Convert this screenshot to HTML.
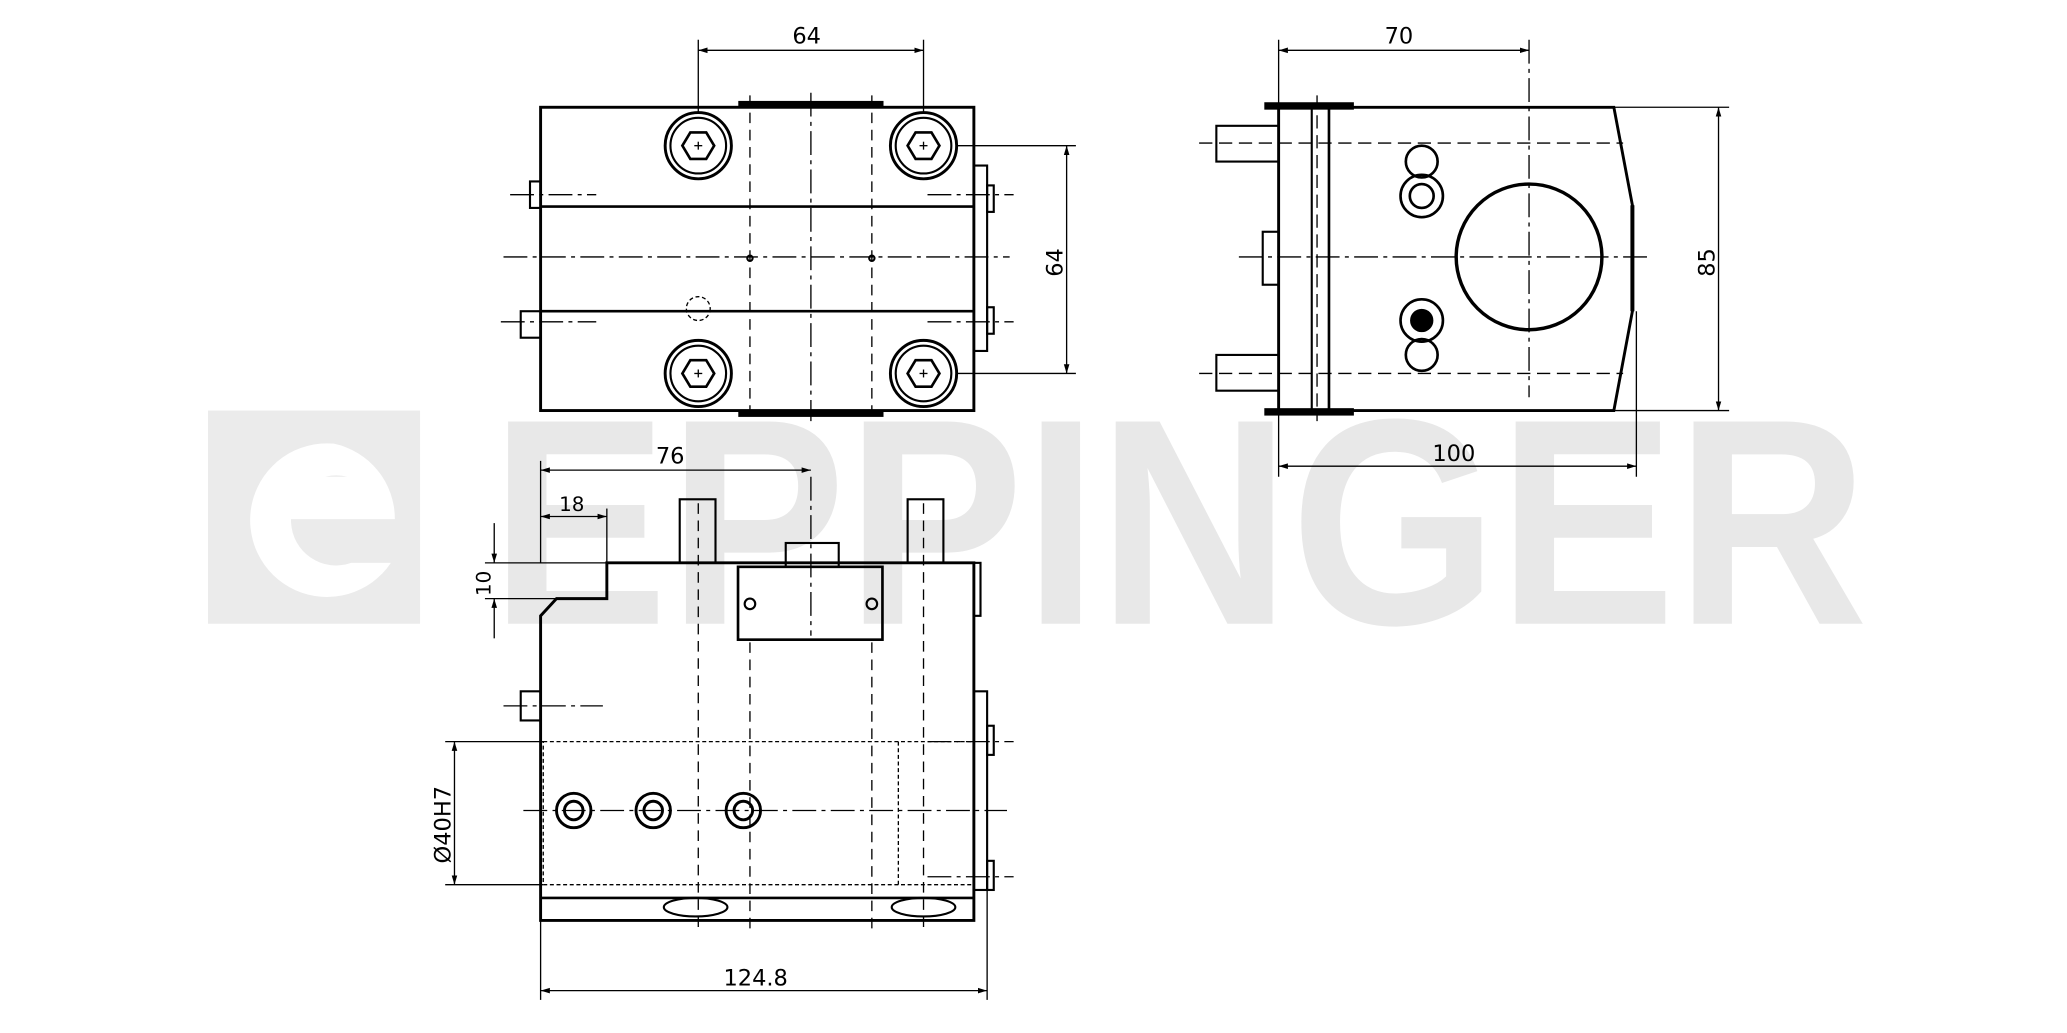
<!DOCTYPE html>
<html><head><meta charset="utf-8"><style>
html,body{margin:0;padding:0;background:#fff;overflow:hidden}
svg{display:block}
text{font-family:"DejaVu Sans","Liberation Sans",sans-serif;fill:#000}
</style></head><body>
<svg width="2067" height="1033" viewBox="0 0 1560 780" preserveAspectRatio="none" xmlns="http://www.w3.org/2000/svg">
<defs>
<marker id="a" viewBox="0 0 10 10" refX="10" refY="5" markerWidth="7" markerHeight="7" orient="auto-start-reverse"><path d="M0,2 L10,5 L0,8z" fill="#000"/></marker>
</defs>
<!-- watermark -->
<rect x="157" y="310" width="160" height="161" fill="#ebebeb"/>
<path d="M252,335 A58,58 0 1 0 295,425 L265,425 A34,34 0 1 1 262,360 L205,360 L205,392 L298,392 A58,58 0 0 0 252,335z" fill="#fff"/>
<text x="370" y="471" font-size="222" font-weight="bold" textLength="1040" lengthAdjust="spacingAndGlyphs" style="fill:#e8e8e8;font-family:'Liberation Sans',sans-serif">EPPINGER</text>

<g fill="none" stroke="#000" stroke-width="1.6">
<!-- TOP LEFT VIEW -->
<rect x="408" y="81" width="327" height="229" stroke-width="2.2"/>
<line x1="408" y1="156" x2="735" y2="156" stroke-width="2"/>
<line x1="408" y1="235" x2="735" y2="235" stroke-width="2"/>
<rect x="558" y="77" width="108" height="4" fill="#000"/>
<rect x="558" y="310" width="108" height="4" fill="#000"/>
<rect x="400" y="137" width="8" height="20"/>
<rect x="393" y="235" width="15" height="20"/>
<rect x="735" y="125" width="10" height="140"/>
<rect x="745" y="140" width="5" height="20"/><rect x="745" y="232" width="5" height="20"/>
<g stroke-dasharray="18,4,3,4" stroke-width="1">
<line x1="612" y1="70" x2="612" y2="318"/>
<line x1="380" y1="194" x2="762" y2="194"/>
<line x1="385" y1="147" x2="450" y2="147"/><line x1="378" y1="243" x2="450" y2="243"/>
<line x1="700" y1="147" x2="765" y2="147"/><line x1="700" y1="243" x2="765" y2="243"/>
</g>
<g stroke-dasharray="8,5" stroke-width="1">
<line x1="566" y1="72" x2="566" y2="318"/><line x1="658" y1="72" x2="658" y2="318"/>
</g>
<circle cx="566" cy="195" r="2"/><circle cx="658" cy="195" r="2"/>
<circle cx="527" cy="233" r="9" stroke-dasharray="3,2" stroke-width="1"/>
<g id="bolt">
<circle cx="527" cy="110" r="25" stroke-width="2.2"/><circle cx="527" cy="110" r="21"/>
<polygon points="539,110 533,100 521,100 515,110 521,120 533,120" stroke-width="2"/>
<line x1="524" y1="110" x2="530" y2="110" stroke-width="1"/><line x1="527" y1="107" x2="527" y2="113" stroke-width="1"/>
</g>
<use href="#bolt" x="170"/><use href="#bolt" y="172"/><use href="#bolt" x="170" y="172"/>
<g stroke-width="1">
<line x1="527" y1="30" x2="527" y2="86"/><line x1="697" y1="30" x2="697" y2="86"/>
<line x1="527" y1="38" x2="697" y2="38" marker-start="url(#a)" marker-end="url(#a)"/>
<line x1="722" y1="110" x2="812" y2="110"/><line x1="722" y1="282" x2="812" y2="282"/>
<line x1="805" y1="110" x2="805" y2="282" marker-start="url(#a)" marker-end="url(#a)"/>
</g>

<!-- TOP RIGHT VIEW -->
<path d="M965,81 L1218,81 L1232,155 L1232,235 L1218,310 L965,310z" stroke-width="2.2"/>
<line x1="990" y1="81" x2="990" y2="310"/><line x1="1003" y1="81" x2="1003" y2="310" stroke-width="2"/>
<rect x="955" y="78" width="66" height="4" fill="#000"/><rect x="955" y="309" width="66" height="4" fill="#000"/>
<rect x="918" y="95" width="47" height="27"/><rect x="918" y="268" width="47" height="27"/>
<rect x="953" y="175" width="12" height="40"/>
<line x1="1232" y1="155" x2="1232" y2="235" stroke-width="3"/>
<circle cx="1154" cy="194" r="55" stroke-width="2.6"/>
<circle cx="1073" cy="122" r="12" stroke-width="2"/><circle cx="1073" cy="148" r="16" stroke-width="2"/><circle cx="1073" cy="148" r="9" stroke-width="2"/>
<circle cx="1073" cy="242" r="16" stroke-width="2"/><circle cx="1073" cy="242" r="8" fill="#000"/><circle cx="1073" cy="268" r="12" stroke-width="2"/>
<g stroke-dasharray="18,4,3,4" stroke-width="1">
<line x1="1154" y1="30" x2="1154" y2="300"/>
<line x1="935" y1="194" x2="1245" y2="194"/>
</g>
<g stroke-dasharray="10,5" stroke-width="1">
<line x1="905" y1="108" x2="1225" y2="108"/><line x1="905" y1="282" x2="1225" y2="282"/>
<line x1="994" y1="72" x2="994" y2="318"/>
</g>
<g stroke-width="1">
<line x1="965" y1="30" x2="965" y2="360"/>
<line x1="965" y1="38" x2="1154" y2="38" marker-start="url(#a)" marker-end="url(#a)"/>
<line x1="1218" y1="81" x2="1305" y2="81"/><line x1="1218" y1="310" x2="1305" y2="310"/>
<line x1="1297" y1="81" x2="1297" y2="310" marker-start="url(#a)" marker-end="url(#a)"/>
<line x1="1235" y1="235" x2="1235" y2="360"/>
<line x1="965" y1="352" x2="1235" y2="352" marker-start="url(#a)" marker-end="url(#a)"/>
</g>

<!-- BOTTOM VIEW -->
<path d="M458,425 L735,425 L735,695 L408,695 L408,465 L420,452 L458,452z" stroke-width="2.2"/>
<line x1="408" y1="678" x2="735" y2="678" stroke-width="2"/>
<rect x="513" y="377" width="27" height="48"/><rect x="685" y="377" width="27" height="48"/>
<rect x="557" y="428" width="109" height="55" stroke-width="2"/>
<rect x="593" y="410" width="40" height="18"/>
<rect x="735" y="425" width="5" height="40"/>
<rect x="735" y="522" width="10" height="150"/>
<rect x="745" y="548" width="5" height="22"/><rect x="745" y="650" width="5" height="22"/>
<rect x="393" y="522" width="15" height="22"/>
<circle cx="566" cy="456" r="4"/><circle cx="658" cy="456" r="4"/>
<rect x="410" y="560" width="325" height="108" stroke-dasharray="3,2" stroke-width="1"/>
<line x1="678" y1="560" x2="678" y2="668" stroke-dasharray="3,2" stroke-width="1"/>
<ellipse cx="525" cy="685" rx="24" ry="7"/><ellipse cx="697" cy="685" rx="24" ry="7"/>
<g stroke-width="2.2">
<circle cx="433" cy="612" r="13"/><circle cx="433" cy="612" r="7"/>
<circle cx="493" cy="612" r="13"/><circle cx="493" cy="612" r="7"/>
<circle cx="561" cy="612" r="13"/><circle cx="561" cy="612" r="7"/>
</g>
<g stroke-dasharray="18,4,3,4" stroke-width="1">
<line x1="612" y1="360" x2="612" y2="480"/>
<line x1="395" y1="612" x2="760" y2="612"/>
<line x1="380" y1="533" x2="455" y2="533"/>
<line x1="700" y1="560" x2="765" y2="560"/><line x1="700" y1="662" x2="765" y2="662"/>
</g>
<g stroke-dasharray="8,5" stroke-width="1">
<line x1="527" y1="380" x2="527" y2="705"/><line x1="566" y1="485" x2="566" y2="705"/>
<line x1="658" y1="485" x2="658" y2="705"/><line x1="697" y1="380" x2="697" y2="705"/>
</g>
<g stroke-width="1">
<line x1="408" y1="348" x2="408" y2="425"/>
<line x1="408" y1="355" x2="612" y2="355" marker-start="url(#a)" marker-end="url(#a)"/>
<line x1="458" y1="384" x2="458" y2="425"/>
<line x1="408" y1="390" x2="458" y2="390" marker-start="url(#a)" marker-end="url(#a)"/>
<line x1="366" y1="425" x2="458" y2="425"/><line x1="366" y1="452" x2="420" y2="452"/>
<line x1="373" y1="395" x2="373" y2="425" marker-end="url(#a)"/>
<line x1="373" y1="482" x2="373" y2="452" marker-end="url(#a)"/>
<line x1="336" y1="560" x2="410" y2="560"/><line x1="336" y1="668" x2="410" y2="668"/>
<line x1="343" y1="560" x2="343" y2="668" marker-start="url(#a)" marker-end="url(#a)"/>
<line x1="408" y1="695" x2="408" y2="755"/><line x1="745" y1="672" x2="745" y2="755"/>
<line x1="408" y1="748" x2="745" y2="748" marker-start="url(#a)" marker-end="url(#a)"/>
</g>
</g>
<g font-size="17">
<text x="598" y="33">64</text>
<text x="1045" y="33">70</text>
<text x="1081" y="348">100</text>
<text x="495" y="350">76</text>
<text x="422" y="386" font-size="15">18</text>
<text x="546" y="744">124.8</text>
<text transform="translate(802,209) rotate(-90)">64</text>
<text transform="translate(1294,209) rotate(-90)">85</text>
<text transform="translate(370,450) rotate(-90)" font-size="15">10</text>
<text transform="translate(340,652) rotate(-90)">Ø40H7</text>
</g>
</svg>
</body></html>
